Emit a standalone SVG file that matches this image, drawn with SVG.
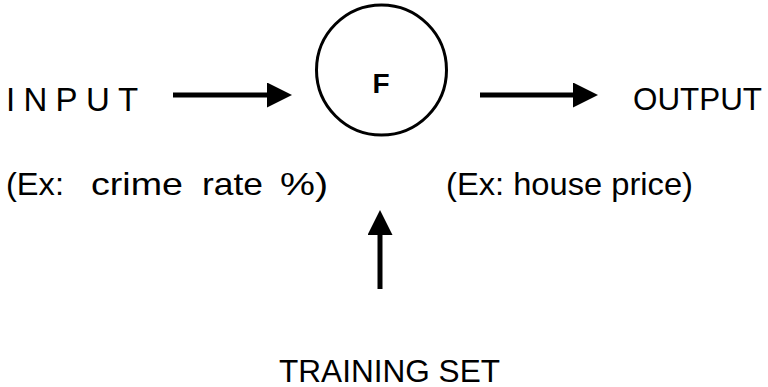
<svg xmlns="http://www.w3.org/2000/svg" width="768" height="387" viewBox="0 0 768 387">
  <style>
    .lbl { font-family: "Liberation Sans", Arial, sans-serif; font-size: 32px; fill: #000; }
    .conn { stroke: #000; stroke-width: 5; fill: none; marker-end: url(#head); }
  </style>
  <defs>
    <marker id="head" markerUnits="userSpaceOnUse" markerWidth="26" markerHeight="26" refX="0" refY="12.5" orient="auto" viewBox="0 0 26 26">
      <path d="M0,0 L25,12.5 L0,25 z" fill="#000"/>
    </marker>
  </defs>
  <rect width="768" height="387" fill="#fff"/>
  <g id="input">
    <text class="lbl" x="6" y="111" style="font-size:33px" letter-spacing="8.3">INPUT</text>
    <text class="lbl" y="195"><tspan x="6" textLength="58" lengthAdjust="spacingAndGlyphs">(Ex:</tspan><tspan x="91" textLength="92" lengthAdjust="spacingAndGlyphs">crime</tspan><tspan x="202" textLength="61" lengthAdjust="spacingAndGlyphs">rate</tspan><tspan x="280" textLength="48" lengthAdjust="spacingAndGlyphs">%)</tspan></text>
  </g>
  <g id="f">
    <circle cx="381.5" cy="70" r="65" fill="#fff" stroke="#000" stroke-width="3"/>
    <text x="381" y="93" text-anchor="middle" style="font-family:'Liberation Sans',Arial,sans-serif;font-size:28px;font-weight:bold">F</text>
  </g>
  <g id="output">
    <text class="lbl" x="633" y="110" textLength="129" lengthAdjust="spacingAndGlyphs">OUTPUT</text>
    <text class="lbl" x="446" y="195" textLength="247" lengthAdjust="spacingAndGlyphs">(Ex: house price)</text>
  </g>
  <g id="training">
    <text class="lbl" x="279" y="382" textLength="221" lengthAdjust="spacingAndGlyphs">TRAINING SET</text>
  </g>
  <g id="connectors">
    <line class="conn" x1="173" y1="95" x2="267" y2="95"/>
    <line class="conn" x1="480" y1="95" x2="573" y2="95"/>
    <line class="conn" x1="380" y1="289" x2="380" y2="235"/>
  </g>
</svg>
